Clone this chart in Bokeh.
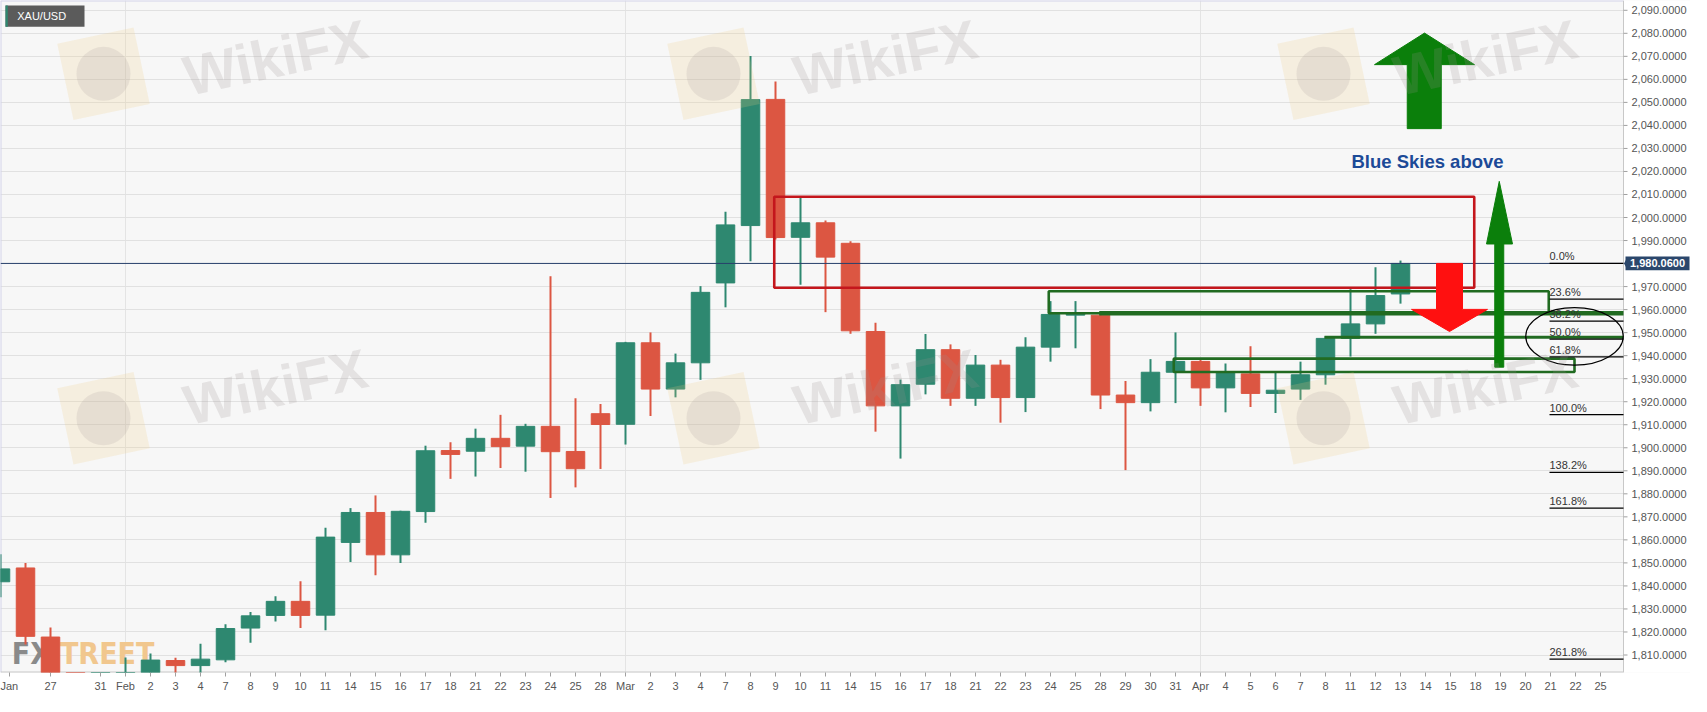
from bokeh.plotting import figure
from bokeh.models import ColumnDataSource, FixedTicker, Range1d
from bokeh.core.properties import value
from bokeh.embed import file_html
from bokeh.resources import INLINE

# XAU/USD daily candles, index 0 = 25 Jan
opens = [1841.8, 1847.8, 1817.8, 1797.0, 1791.0, 1797.0, 1801.0, 1807.6, 1805.4, 1807.9,
         1821.7, 1827.2, 1833.3, 1827.3, 1858.9, 1871.9, 1853.5, 1872.3, 1898.8, 1898.5,
         1904.1, 1900.7, 1909.3, 1898.4, 1914.8, 1910.2, 1945.6, 1925.5, 1936.9, 1971.6,
         1996.5, 2051.3, 1991.4, 1997.7, 1988.8, 1950.5, 1918.2, 1927.6, 1942.6, 1921.5,
         1935.9, 1921.8, 1943.7, 1957.6, 1957.6, 1922.9, 1919.6, 1932.8, 1937.5, 1926.0,
         1932.1, 1923.6, 1925.5, 1931.7, 1947.5, 1953.8, 1966.8]
highs = [1853.8, 1850.0, 1821.9, 1799.0, 1800.0, 1808.9, 1810.6, 1808.8, 1814.9, 1823.4,
         1828.7, 1835.5, 1842.0, 1865.3, 1873.8, 1879.3, 1872.7, 1900.9, 1902.4, 1908.3,
         1914.3, 1910.4, 1974.5, 1921.5, 1919.0, 1946.0, 1950.1, 1940.9, 1970.2, 2002.5,
         2070.2, 2059.1, 2008.6, 1998.7, 1989.7, 1954.3, 1929.6, 1949.4, 1944.9, 1940.3,
         1938.2, 1948.0, 1963.7, 1963.7, 1959.0, 1929.0, 1938.5, 1950.1, 1938.5, 1936.6,
         1944.1, 1932.5, 1937.4, 1948.4, 1968.9, 1978.4, 1981.3]
lows = [1835.1, 1814.6, 1789.0, 1780.0, 1785.0, 1795.0, 1799.0, 1792.0, 1792.0, 1806.8,
        1815.3, 1824.5, 1821.7, 1820.7, 1850.4, 1844.6, 1850.0, 1867.4, 1886.5, 1887.5,
        1891.2, 1889.6, 1878.2, 1882.8, 1890.8, 1901.4, 1913.8, 1921.9, 1929.5, 1961.0,
        1981.0, 1990.5, 1970.8, 1958.9, 1949.5, 1907.0, 1895.3, 1923.2, 1918.2, 1918.2,
        1910.9, 1915.5, 1937.4, 1943.2, 1916.8, 1890.3, 1915.8, 1919.4, 1918.2, 1915.4,
        1917.7, 1915.1, 1920.8, 1927.4, 1939.6, 1949.5, 1962.6]
closes = [1847.4, 1818.1, 1797.0, 1791.0, 1797.0, 1801.0, 1807.8, 1805.4, 1808.2, 1821.5,
          1827.0, 1833.3, 1827.2, 1861.2, 1871.9, 1853.5, 1872.4, 1898.7, 1897.1, 1904.1,
          1900.5, 1909.3, 1898.3, 1890.9, 1910.1, 1945.6, 1925.5, 1936.9, 1967.5, 1996.8,
          2051.2, 1991.3, 1997.7, 1982.8, 1950.8, 1918.2, 1927.4, 1942.6, 1921.5, 1935.9,
          1921.8, 1943.7, 1957.9, 1958.6, 1922.9, 1919.6, 1932.8, 1937.5, 1926.0, 1932.8,
          1923.6, 1925.0, 1931.7, 1947.5, 1953.8, 1966.1, 1980.06]

# date axis, index 0..64 (Jan 25 .. Apr 25), "" = no label
day_labels = ["Jan", "", "27", "", "31", "Feb", "2", "3", "4", "7", "8", "9", "10", "11",
              "14", "15", "16", "17", "18", "21", "22", "23", "24", "25", "28", "Mar", "2",
              "3", "4", "7", "8", "9", "10", "11", "14", "15", "16", "17", "18", "21", "22",
              "23", "24", "25", "28", "29", "30", "31", "Apr", "4", "5", "6", "7", "8", "11",
              "12", "13", "14", "15", "18", "19", "20", "21", "22", "25"]
month_starts = [5, 25, 48]

price_ticks = list(range(1810, 2091, 10))
last_price = 1980.06

fib_names = ["0.0%", "23.6%", "38.2%", "50.0%", "61.8%", "100.0%", "138.2%", "161.8%", "261.8%"]
fib_levels = [1980.06, 1964.6, 1955.0, 1947.2, 1939.5, 1914.4, 1889.3, 1873.8, 1808.2]

# drawn zones (day index / price)
red_zone = [30.95, 58.95, 1969.5, 2009.0]
green_zones = [[41.93, 61.93, 1958.4, 1968.0], [46.93, 62.96, 1932.9, 1938.7]]
support_start = [43.95, 52.96]
support_level = [1958.4, 1948.0]

GREEN = "#2e8870"
RED = "#dc5642"
SANS = value("Liberation Sans")
NARROW = value("Liberation Sans Narrow, DejaVu Sans Condensed, sans-serif")

n = len(closes)
src = ColumnDataSource(dict(
    x=list(range(n)),
    high=highs, low=lows,
    top=[max(o, c) for o, c in zip(opens, closes)],
    bottom=[min(o, c) for o, c in zip(opens, closes)],
    color=[GREEN if c >= o else RED for o, c in zip(opens, closes)],
))

X_END = 64.92      # price scale sits here, chart area is left of it
X_MAX = 67.6
Y0, Y1 = 1802.4, 2094.25
p = figure(width=1690, height=696, x_range=Range1d(0, X_MAX), y_range=Range1d(Y0, Y1),
           output_backend="svg", toolbar_location=None, y_axis_location=None,
           min_border_left=0, min_border_top=0, min_border_right=0, min_border_bottom=24,
           background_fill_color="#f7f7f7", border_fill_color="white", outline_line_color=None)

# date axis
tick_pos = [i if i > 0 else 0.35 for i, t in enumerate(day_labels) if t]
tick_txt = [t for t in day_labels if t]
ax = p.xaxis[0]
ax.ticker = FixedTicker(ticks=tick_pos)
ax.major_label_overrides = {k: v for k, v in zip(tick_pos, tick_txt)}
ax.axis_line_color = None
ax.major_tick_line_color = "#a0a0a0"
ax.major_tick_in = 0
ax.major_tick_out = 4
ax.minor_tick_line_color = None
ax.major_label_text_font = "Liberation Sans"
ax.major_label_text_font_size = "11px"
ax.major_label_text_color = "#555555"
ax.major_label_standoff = 3

p.xgrid.ticker = FixedTicker(ticks=month_starts)
p.xgrid.grid_line_color = "#e4e4e4"
p.ygrid.ticker = FixedTicker(ticks=price_ticks)
p.ygrid.grid_line_color = "#e1e1e1"

# white price-scale strip and chart border
p.quad(left=[X_END], right=[X_MAX], bottom=[Y0], top=[Y1], fill_color="white", line_color=None)
p.segment(x0=[0, 0], y0=[Y1, Y0], x1=[X_END, 0], y1=[Y1, Y1], line_color="#d4d4ea", line_width=2)
p.segment(x0=[0, X_END], y0=[Y0, Y0], x1=[X_END, X_END], y1=[Y0, Y1], line_color="#c8c8c8",
          line_width=[2, 1])

# FXStreet logo under the candles
p.text(x=[0.45], y=[1810.5], text=["FX"], text_font=NARROW, text_font_style="bold",
       text_font_size="30px", text_color="#8a8a8a", text_baseline="alphabetic")
p.text(x=[1.6], y=[1810.5], text=["STREET"], text_font=NARROW, text_font_style="bold",
       text_font_size="30px", text_color="#f1c78e", text_baseline="alphabetic")

# candles
p.segment(x0="x", y0="low", x1="x", y1="high", line_color="color", line_width=2, source=src)
p.vbar(x="x", width=0.74, top="top", bottom="bottom", fill_color="color",
       line_color="color", line_width=1, source=src)

# last price line
p.segment(x0=[0], x1=[X_END], y0=[last_price], y1=[last_price], line_color="#27406b", line_width=1)

# zones
p.quad(left=[red_zone[0]], right=[red_zone[1]], bottom=[red_zone[2]], top=[red_zone[3]],
       fill_color=None, line_color="#c4161c", line_width=2.6)
p.quad(left=[z[0] for z in green_zones], right=[z[1] for z in green_zones],
       bottom=[z[2] for z in green_zones], top=[z[3] for z in green_zones],
       fill_color=None, line_color="#216b21", line_width=2.6)
p.segment(x0=support_start, x1=[X_END] * 2, y0=support_level, y1=support_level,
          line_color="#216b21", line_width=[4.5, 3])

# fibonacci levels
p.segment(x0=[61.96] * len(fib_levels), x1=[X_END] * len(fib_levels), y0=fib_levels, y1=fib_levels,
          line_color="black", line_width=1.3)
p.text(x=[61.96] * len(fib_levels), y=fib_levels, text=fib_names, y_offset=-1,
       text_baseline="bottom", text_font=SANS, text_font_size="11px", text_color="#333333")
p.ellipse(x=[62.96], y=[1948.4], width=3.9, height=25, fill_color=None,
          line_color="black", line_width=1.2)

# arrows
p.patches(xs=[[56.27, 57.63, 57.63, 58.96, 56.96, 54.96, 56.27],
              [59.77, 60.13, 60.13, 60.48, 59.95, 59.44, 59.77]],
          ys=[[2038.6, 2038.6, 2066.4, 2066.4, 2080.1, 2066.4, 2066.4],
              [1935.0, 1935.0, 1988.5, 1988.5, 2015.7, 1988.5, 1988.5]],
          fill_color="#0b7f0b", line_color="#0b7f0b", line_width=1)
p.patch(x=[57.44, 58.48, 58.48, 59.48, 57.96, 56.44, 57.44],
        y=[1980.06, 1980.06, 1960.1, 1960.1, 1950.5, 1960.1, 1960.1],
        fill_color="#ff1010", line_color="#ff1010", line_width=1)

p.text(x=[57.08], y=[2024.2], text=["Blue Skies above"], text_align="center", text_baseline="middle",
       text_font=SANS, text_font_style="bold", text_font_size="18.5px", text_color="#1c4a97")

# symbol tag
p.quad(left=[0.2], right=[3.36], bottom=[2082.8], top=[2092.1], fill_color="#5b5b5b", line_color=None)
p.quad(left=[0.2], right=[0.29], bottom=[2082.8], top=[2092.1], fill_color=GREEN, line_color=None)
p.text(x=[0.67], y=[2087.45], text=["XAU/USD"], text_baseline="middle", text_font=SANS,
       text_font_size="11px", text_color="white")

# price scale: ticks, labels and last price tag
p.ray(x=[X_END] * len(price_ticks), y=price_ticks, length=4, length_units="screen", angle=0,
      line_color="#a0a0a0", line_width=1)
p.text(x=[X_END] * len(price_ticks), y=price_ticks,
       text=["" if t == 1980 else f"{t:,.4f}" for t in price_ticks], x_offset=8,
       text_baseline="middle", text_font=SANS, text_font_size="11px", text_color="#555555")
p.quad(left=[X_END + 0.08], right=[X_END + 2.64], bottom=[last_price - 3.0], top=[last_price + 3.0],
       fill_color="#2b476c", line_color=None)
p.patch(x=[X_END + 0.02, X_END + 0.1, X_END + 0.1], y=[last_price, last_price + 1.6, last_price - 1.6],
        fill_color="#2b476c", line_color=None)
p.text(x=[X_END + 1.36], y=[last_price], text=[f"{last_price:,.4f}"], text_align="center",
       text_baseline="middle", text_font=SANS, text_font_style="bold", text_font_size="11px",
       text_color="white")

# WikiFX watermarks on top
wm_x = [11.0, 35.4, 59.4, 11.0, 35.4, 59.4]
wm_y = [2069.5, 2069.5, 2069.5, 1926.45, 1926.45, 1926.45]
logo_x = [4.12, 28.52, 52.92, 4.12, 28.52, 52.92]
logo_y = [2062.4, 2062.4, 2062.4, 1912.85, 1912.85, 1912.85]
p.rect(x=logo_x, y=logo_y, width=78, height=78, width_units="screen", height_units="screen",
       angle=12, angle_units="deg", fill_color="#f2cf80", fill_alpha=0.2, line_color=None)
p.scatter(x=logo_x, y=logo_y, size=54, fill_color="#9a8f8f", fill_alpha=0.16, line_color=None)
p.text(x=wm_x, y=wm_y, text=["WikiFX"] * 6, angle=12, angle_units="deg", text_align="center",
       text_baseline="middle", text_font=SANS, text_font_style="bold",
       text_font_size="56px", text_color="#9a8f8f", text_alpha=0.2)

open("out.html", "w").write(file_html(p, INLINE))
